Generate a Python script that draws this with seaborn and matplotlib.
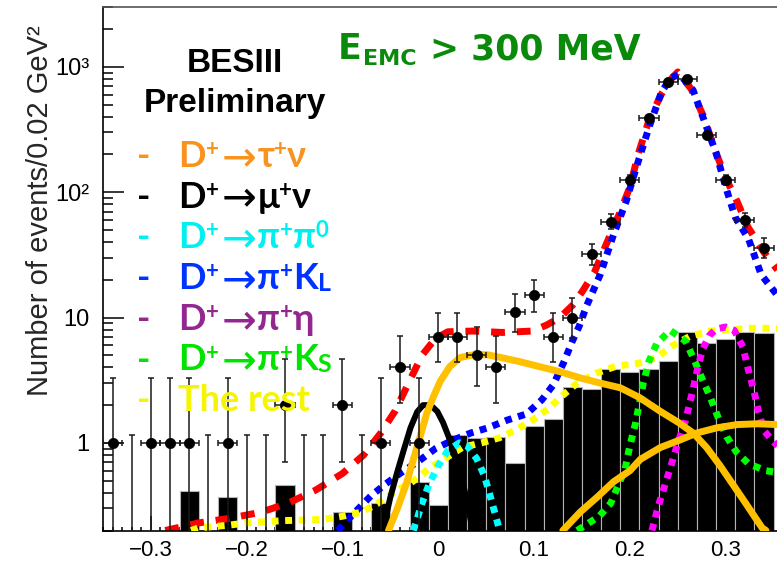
import numpy as np
import pandas as pd
import matplotlib
matplotlib.use("Agg")
import matplotlib.pyplot as plt
import seaborn as sns
from matplotlib.ticker import FixedLocator, FixedFormatter, LogLocator, NullFormatter, MultipleLocator

# ---------------- data ----------------
bin_centers = [-0.34, -0.32, -0.30, -0.28, -0.26, -0.24, -0.22, -0.20, -0.18, -0.16,
               -0.14, -0.12, -0.10, -0.08, -0.06, -0.04, -0.02, 0.00, 0.02, 0.04,
               0.06, 0.08, 0.10, 0.12, 0.14, 0.16, 0.18, 0.20, 0.22, 0.24,
               0.26, 0.28, 0.30, 0.32, 0.34]
counts = [1, 0, 1, 1, 1, 0, 1, 0, 0, 2,
          0, 0, 2, 0, 1, 4, 1, 7, 7, 5,
          4, 11, 15, 7, 10, 32, 58, 126, 391, 750,
          795, 285, 126, 60, 36]
err_lo = [0.83, 0, 0.83, 0.83, 0.83, 0, 0.83, 0, 0, 1.29,
          0, 0, 1.29, 0, 0.83, 1.91, 0.83, 2.58, 2.58, 2.16,
          1.91, 3.27, 3.84, 2.58, 3.11, 5.6, 7.6, 11.2, 19.8, 27.4,
          28.2, 16.9, 11.2, 7.7, 6.0]
err_hi = [2.3, 1.15, 2.3, 2.3, 2.3, 1.15, 2.3, 1.15, 1.15, 2.64,
          1.15, 1.15, 2.64, 1.15, 2.3, 3.16, 2.3, 3.77, 3.77, 3.38,
          3.16, 4.38, 4.96, 3.77, 4.27, 6.7, 8.6, 12.2, 20.8, 28.4,
          29.2, 17.9, 12.2, 8.8, 7.0]
mc_heights = [0, 0, 0, 0, 0.41, 0, 0.37, 0, 0, 0.46,
              0, 0, 0.28, 0, 0.33, 0, 0.49, 0.32, 1.15, 1.10,
              1.11, 0.69, 1.36, 1.56, 2.80, 2.70, 3.85, 3.65, 3.88, 4.50,
              7.70, 6.30, 6.70, 7.70, 7.55]

total_x = [-0.285, -0.25, -0.218, -0.185, -0.157, -0.128, -0.10, -0.078, -0.06, -0.045,
           -0.032, -0.017, -0.003, 0.01, 0.036, 0.067, 0.098, 0.113, 0.127, 0.14,
           0.15, 0.163, 0.178, 0.19, 0.20, 0.209, 0.22, 0.233, 0.244, 0.25,
           0.264, 0.277, 0.29, 0.30, 0.312, 0.323, 0.34, 0.354]
total_y = [0.2, 0.23, 0.25, 0.28, 0.33, 0.42, 0.57, 0.8, 1.2, 1.8,
           2.9, 5.0, 6.8, 7.7, 7.8, 7.6, 7.8, 8.7, 10, 12.5,
           16, 23, 43, 70, 110, 205, 377, 607, 815, 910,
           665, 400, 205, 130, 84, 53, 33, 24]

kl_x = [-0.105, -0.085, -0.07, -0.055, -0.04, -0.02, -0.003, 0.015, 0.034, 0.052,
        0.072, 0.092, 0.108, 0.12, 0.131, 0.14, 0.147, 0.155, 0.169, 0.183,
        0.196, 0.207, 0.22, 0.233, 0.243, 0.252, 0.266, 0.28, 0.29, 0.30,
        0.31, 0.324, 0.337, 0.354]
kl_y = [0.2, 0.29, 0.38, 0.47, 0.57, 0.72, 0.9, 1.05, 1.2, 1.32,
        1.52, 1.7, 2.2, 2.9, 4.4, 6.5, 8.5, 12.5, 22, 46,
        84, 160, 330, 630, 820, 870, 650, 330, 205, 110,
        63, 42, 22, 15]

rest_x = [-0.258, -0.25, -0.22, -0.2, -0.16, -0.12, -0.1, -0.08, -0.063, -0.045,
          -0.027, -0.01, 0.007, 0.025, 0.045, 0.064, 0.082, 0.1, 0.116, 0.13,
          0.145, 0.165, 0.186, 0.208, 0.228, 0.245, 0.263, 0.284, 0.305, 0.325, 0.354]
rest_y = [0.2, 0.21, 0.22, 0.23, 0.24, 0.245, 0.26, 0.28, 0.33, 0.41,
          0.49, 0.62, 0.75, 0.92, 1.0, 1.1, 1.28, 1.55, 1.9, 2.4,
          3.0, 3.6, 4.1, 4.3, 4.8, 6.0, 7.1, 7.8, 8.0, 8.2, 8.2]

munu_x = [-0.058, -0.05, -0.043, -0.036, -0.029, -0.022, -0.016, -0.008, -0.001, 0.005,
          0.012, 0.02, 0.028, 0.036]
munu_y = [0.2, 0.37, 0.58, 0.88, 1.32, 1.77, 2.0, 2.0, 1.78, 1.45,
          1.06, 0.7, 0.4, 0.2]

pipi0_x = [-0.026, -0.017, -0.01, -0.001, 0.01, 0.022, 0.03, 0.04, 0.048, 0.054, 0.06, 0.064]
pipi0_y = [0.2, 0.33, 0.46, 0.64, 0.87, 1.0, 0.95, 0.75, 0.55, 0.38, 0.26, 0.2]

ks_x = [0.145, 0.168, 0.18, 0.195, 0.2, 0.206, 0.214, 0.22, 0.228, 0.242,
        0.258, 0.266, 0.275, 0.284, 0.292, 0.301, 0.311, 0.324, 0.342, 0.354]
ks_y = [0.2, 0.26, 0.33, 0.62, 0.95, 1.45, 3.0, 4.5, 6.2, 7.9,
        6.5, 4.8, 3.3, 2.3, 1.6, 1.12, 0.85, 0.68, 0.6, 0.58]

eta_x = [0.223, 0.23, 0.238, 0.244, 0.25, 0.258, 0.266, 0.271, 0.276, 0.283,
         0.29, 0.30, 0.309, 0.318, 0.323, 0.329, 0.334, 0.34, 0.351, 0.354]
eta_y = [0.2, 0.32, 0.5, 0.7, 1.0, 1.5, 2.7, 4.0, 5.6, 7.2,
         8.1, 8.4, 7.9, 5.8, 4.0, 2.7, 1.8, 1.25, 1.0, 0.95]

taunu_x = [-0.052, -0.042, -0.033, -0.026, -0.019, -0.012, -0.005, 0.002, 0.012, 0.023,
           0.037, 0.051, 0.065, 0.085, 0.106, 0.127, 0.148, 0.169, 0.19, 0.21,
           0.232, 0.251, 0.266, 0.28, 0.294, 0.308, 0.322, 0.338, 0.342]
taunu_y = [0.2, 0.31, 0.48, 0.74, 1.12, 1.73, 2.34, 3.1, 4.06, 4.8,
           5.05, 5.05, 4.8, 4.45, 4.05, 3.7, 3.3, 3.0, 2.75, 2.3,
           1.78, 1.45, 1.2, 0.92, 0.66, 0.46, 0.32, 0.21, 0.2]

taunu2_x = [0.13, 0.148, 0.166, 0.183, 0.2, 0.211, 0.232, 0.253, 0.27, 0.291, 0.312, 0.333, 0.354]
taunu2_y = [0.2, 0.28, 0.37, 0.49, 0.6, 0.74, 0.92, 1.06, 1.2, 1.32, 1.4, 1.42, 1.4]

x_ticks = [-0.3, -0.2, -0.1, 0.0, 0.1, 0.2, 0.3]
x_tick_labels = ["\u22120.3", "\u22120.2", "\u22120.1", "0", "0.1", "0.2", "0.3"]
y_ticks = [1, 10, 100, 1000]
y_tick_labels = ["1", "10", "10\u00b2", "10\u00b3"]
y_label = "Number of events/0.02 GeV\u00b2"

legend_entries = [
    ("D", "+", "\u03c4", "+", "\u03bd", ""),
    ("D", "+", "\u03bc", "+", "\u03bd", ""),
    ("D", "+", "\u03c0", "+", "\u03c0", "0"),
    ("D", "+", "\u03c0", "+", "K", "L"),
    ("D", "+", "\u03c0", "+", "\u03b7", ""),
    ("D", "+", "\u03c0", "+", "K", "S"),
]
legend_colors = ["#F7931E", "#000000", "#00F0F0", "#0033FF", "#92278F", "#00E400", "#F5F500"]
rest_label = "The rest"

# ---------------- figure ----------------
sns.set_theme(style="ticks")
plt.rcParams["font.family"] = ["Liberation Sans", "DejaVu Sans"]
plt.rcParams["axes.unicode_minus"] = True

W, H = 777, 566
fig = plt.figure(figsize=(W / 100, H / 100), dpi=100)
ax_left, ax_bottom, ax_top = 103, 530.5, 7
ax = fig.add_axes([ax_left / W, (H - ax_bottom) / H, (W - ax_left) / W, (ax_bottom - ax_top) / H])
ax.set_facecolor("white")
ax.set_yscale("log")
ax.set_xlim(-0.35, -0.35 + (W - ax_left) / 958.0)
ax.set_ylim(0.2, 3000)

# histogram (black bars)
bc = np.array(bin_centers)
mh = np.array(mc_heights)
m = mh > 0
ax.bar(bc[m], mh[m], width=0.02, color="black", edgecolor="#b4b4b4", linewidth=0.8, zorder=1)

def curve(xs, ys, color, lw, ls, z):
    sns.lineplot(x=xs, y=ys, ax=ax, color=color, linewidth=lw, linestyle=ls,
                 estimator=None, errorbar=None, sort=False, zorder=z,
                 dash_capstyle="butt", solid_capstyle="round")

dotted = (0, (1.0, 0.95))
curve(total_x, total_y, "#FF0000", 5.0, (0, (2.0, 1.7)), 2)
curve(kl_x, kl_y, "#0000FF", 5.0, dotted, 3)
curve(rest_x, rest_y, "#FFFF00", 5.0, dotted, 3.2)
curve(munu_x, munu_y, "#000000", 4.3, "-", 3.4)
curve(pipi0_x, pipi0_y, "#00FFFF", 5.0, dotted, 3.5)
curve(ks_x, ks_y, "#00FF00", 5.0, dotted, 3.6)
curve(eta_x, eta_y, "#FF00FF", 5.0, dotted, 3.7)
curve(taunu_x, taunu_y, "#FFC000", 5.0, "-", 3.9)
curve(taunu2_x, taunu2_y, "#FFC000", 5.0, "-", 3.9)

# data points
cnt = np.array(counts, dtype=float)
lo = np.array(err_lo)
hi = np.array(err_hi)
nz = cnt > 0
ax.errorbar(bc[nz], cnt[nz], xerr=0.01, yerr=[lo[nz], hi[nz]], fmt="none",
            ecolor="#1a1a1a", elinewidth=1.1, capsize=2.5, capthick=1.1, zorder=5)
zb = ~nz
ax.errorbar(bc[zb], hi[zb], yerr=[hi[zb] - 1e-3, np.zeros(zb.sum())], fmt="none",
            ecolor="#1a1a1a", elinewidth=1.1, capsize=2.5, capthick=1.1, zorder=5)
sns.scatterplot(x=bc[nz], y=cnt[nz], ax=ax, color="black", s=55, edgecolor="black",
                linewidth=0.5, zorder=6, legend=False)

# axes styling
ax.spines["right"].set_visible(False)
for sp in ["left", "bottom", "top"]:
    ax.spines[sp].set_linewidth(1.2)
    ax.spines[sp].set_color("black")
ax.spines["top"].set_color("#555555")

ax.xaxis.set_major_locator(FixedLocator(x_ticks))
ax.xaxis.set_major_formatter(FixedFormatter(x_tick_labels))
ax.xaxis.set_minor_locator(MultipleLocator(0.01))
ax.yaxis.set_major_locator(FixedLocator(y_ticks))
ax.yaxis.set_major_formatter(FixedFormatter(y_tick_labels))
ax.yaxis.set_minor_locator(LogLocator(base=10, subs=np.arange(2, 10)))
ax.yaxis.set_minor_formatter(NullFormatter())

ax.tick_params(axis="both", which="both", direction="in", colors="black", width=1.1,
               top=False, right=False)
ax.tick_params(axis="x", which="major", length=11, pad=7.2, labelsize=16)
ax.tick_params(axis="x", which="minor", length=3)
ax.tick_params(axis="y", which="major", length=15, pad=10, labelsize=17)
ax.tick_params(axis="y", which="minor", length=7.5)
ax.set_xlabel("")
ax.set_ylabel(y_label, fontsize=21, va="center")
ax.yaxis.set_label_coords((40 - ax_left) / (W - ax_left), (ax_bottom - 211) / (ax_bottom - ax_top))

# ---------------- texts ----------------
renderer = fig.canvas.get_renderer()
LEGF = ["Lato", "DejaVu Sans"]

def put(x_px, base_px, s, size, color, fam, weight="bold"):
    t = fig.text(x_px / W, 1 - base_px / H, s, fontsize=size, color=color, family=fam,
                 weight=weight, ha="left", va="baseline")
    return t.get_window_extent(renderer).width

fig.text(235 / W, 1 - 72 / H, "BESIII", ha="center", va="baseline", fontsize=24,
         weight="bold", family=["Liberation Sans"], color="black")
fig.text(235 / W, 1 - 112 / H, "Preliminary", ha="center", va="baseline", fontsize=24,
         weight="bold", family=["Liberation Sans"], color="black")

MAIN, SUP, RAISE = 26, 16, 11
base0, step = 167, 40.7
for i, ent in enumerate(legend_entries):
    col = legend_colors[i]
    b = base0 + i * step
    put(137, b, "-", MAIN, col, LEGF)
    x = 178
    d, p1, a, p2, c, last = ent
    x += put(x, b, d, MAIN, col, LEGF)
    x += put(x, b - RAISE, p1, SUP, col, LEGF)
    x += 3
    x += put(x, b + 3, "\u2192", 30, col, ["DejaVu Sans"], weight="normal")
    x += 1
    x += put(x, b, a, MAIN, col, LEGF)
    x += put(x, b - RAISE, p2, SUP, col, LEGF)
    x += put(x, b, c, MAIN, col, LEGF)
    if last == "0":
        put(x, b - RAISE, last, SUP, col, LEGF)
    elif last:
        put(x, b + 2, last, 18, col, LEGF)
b = base0 + 6 * step
put(137, b, "-", MAIN, legend_colors[6], LEGF)
put(178, b, rest_label, MAIN, legend_colors[6], LEGF)

# title
GREEN = "#0A8A0A"
tx = 338
tx += put(tx, 59, "E", 25, GREEN, ["DejaVu Sans"])
put(tx + 1, 65, "EMC", 16, GREEN, ["DejaVu Sans"])
put(430, 59, "> 300 MeV", 25, GREEN, ["DejaVu Sans"])

fig.savefig("out.png", dpi=100)
